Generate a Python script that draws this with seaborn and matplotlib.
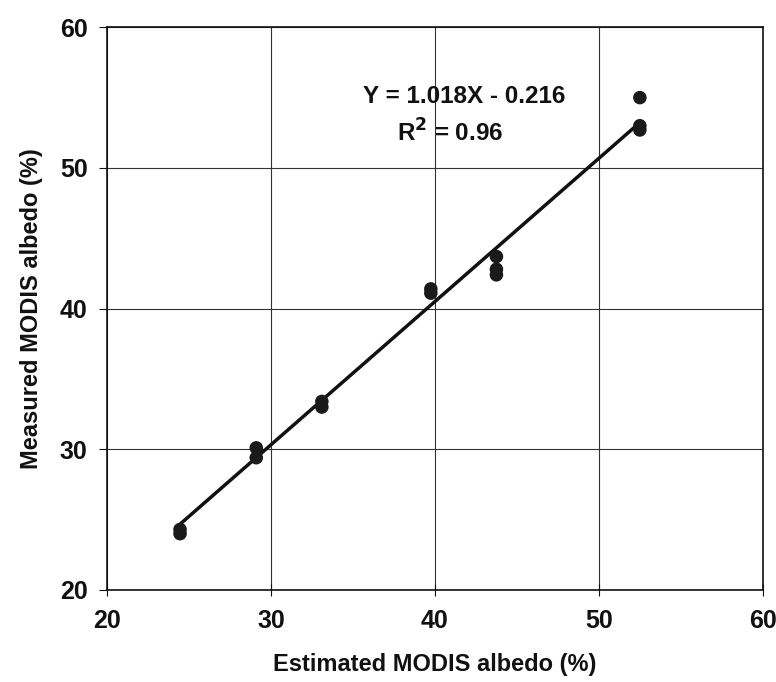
import numpy as np
import pandas as pd
import matplotlib
matplotlib.use("Agg")
import matplotlib.pyplot as plt
import seaborn as sns

# Estimated vs measured MODIS albedo (%)
estimated = [24.45, 24.45, 29.1, 29.1, 33.1, 33.1, 39.75, 39.75, 43.75, 43.75, 43.75, 52.5, 52.5, 52.5]
measured = [24.3, 24.0, 30.1, 29.4, 33.4, 33.0, 41.4, 41.1, 43.7, 42.8, 42.4, 55.0, 53.0, 52.7]

slope = 1.018
intercept = -0.216
eq_text = "Y = 1.018X - 0.216"
r2_text = "R$^2$ = 0.96"

ticks = [20, 30, 40, 50, 60]

df = pd.DataFrame({"estimated": estimated, "measured": measured})

sns.set_style("white")
plt.rcParams["font.family"] = ["Liberation Sans", "DejaVu Sans"]
plt.rcParams["font.weight"] = "bold"

fig = plt.figure(figsize=(7.76, 6.82), dpi=100)
ax = fig.add_axes([0.138, 0.135, 0.845, 0.825])

sns.scatterplot(data=df, x="estimated", y="measured", color="#1a1a1a", s=95,
                edgecolor="none", ax=ax, zorder=3)

# fitted line over the data range
fit_x = np.array([min(estimated), max(estimated)])
fit_y = slope * fit_x + intercept
sns.lineplot(x=fit_x, y=fit_y, color="#111111", linewidth=2.5, ax=ax, zorder=2)

ax.set_xlim(20, 60)
ax.set_ylim(20, 60)
ax.set_xticks(ticks)
ax.set_yticks(ticks)
ax.grid(True, color="#333333", linewidth=0.8)
for s in ax.spines.values():
    s.set_color("#111111")
    s.set_linewidth(1.2)

ax.tick_params(axis="x", direction="inout", length=8, labelsize=18, pad=10, colors="#111111")
ax.tick_params(axis="y", direction="out", length=6, labelsize=18, pad=8, colors="#111111")
ax.tick_params(axis="both", left=True, bottom=True)
for lab in ax.get_xticklabels() + ax.get_yticklabels():
    lab.set_fontweight("bold")

ax.set_xlabel("Estimated MODIS albedo (%)", fontsize=17, fontweight="bold", labelpad=14, color="#111111")
ax.set_ylabel("Measured MODIS albedo (%)", fontsize=17, fontweight="bold", labelpad=12, color="#111111")

ax.text(41.8, 55.1, eq_text, ha="center", va="center", fontsize=17.5, fontweight="bold", color="#111111")
ax.text(40.9, 52.5, r2_text, ha="center", va="center", fontsize=17.5, fontweight="bold", color="#111111")

fig.savefig("out.png", dpi=100)
